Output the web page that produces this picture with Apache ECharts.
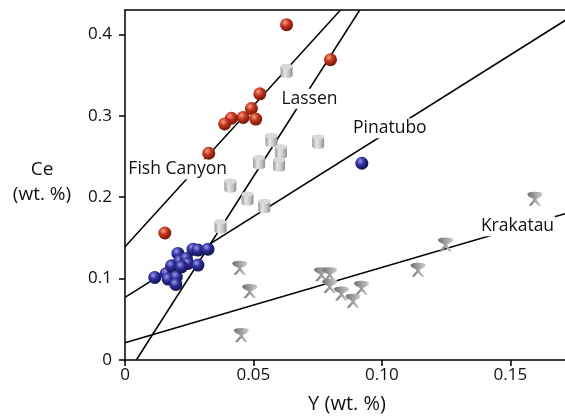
<!DOCTYPE html>
<html>
<head>
<meta charset="utf-8">
<script src="https://cdn.jsdelivr.net/npm/echarts@6/dist/echarts.min.js"></script>
<style>
html,body{margin:0;padding:0;background:#fff;}
#chart{width:565px;height:418px;}
</style>
</head>
<body>
<div id="chart"></div>
<script>
// ---- data (Y wt.%, Ce wt.%) ----
var fishCanyon = [[0.0629,0.412],[0.0800,0.369],[0.0525,0.327],[0.0492,0.309],[0.0460,0.298],
  [0.0509,0.296],[0.0414,0.297],[0.0388,0.290],[0.0326,0.254],[0.0155,0.156]];
var lassen = [[0.0629,0.355],[0.0570,0.270],[0.0752,0.268],[0.0607,0.256],[0.0600,0.240],
  [0.0522,0.243],[0.0410,0.214],[0.0477,0.198],[0.0542,0.189],[0.0372,0.164]];
var pinatubo = [[0.0116,0.1015],[0.0161,0.1064],[0.0168,0.0994],[0.0181,0.1157],[0.0200,0.1022],
  [0.0198,0.0929],[0.0206,0.1309],[0.0213,0.1215],[0.0239,0.1248],[0.0245,0.1186],
  [0.0265,0.1362],[0.0284,0.1350],[0.0323,0.1362],[0.0284,0.1166],[0.0220,0.1145],[0.0922,0.2417]];
var krakatau = [[0.1596,0.198],[0.1248,0.142],[0.1141,0.111],[0.0765,0.1055],[0.0797,0.1055],
  [0.0797,0.0908],[0.0843,0.0818],[0.0921,0.0887],[0.0888,0.0728],[0.0447,0.1133],
  [0.0486,0.0847],[0.0453,0.0307]];
// trend lines (end points)
var fishLine = [[0,0.139],[0.0839,0.43]];
var lassenLine = [[0.0044,0],[0.0914,0.43]];
var pinatuboLine = [[0,0.077],[0.1778,0.43]];
var krakatauLine = [[0,0.0213],[0.1713,0.1798]];
// group labels
var groupLabels = [
  {name:'Fish Canyon', value:[0.0205,0.2344]},
  {name:'Lassen', value:[0.0718,0.321]},
  {name:'Pinatubo', value:[0.1031,0.2847]},
  {name:'Krakatau', value:[0.1528,0.1644]}
];
var xTicks = [0,0.05,0.10,0.15];
var yTicks = [0,0.1,0.2,0.3,0.4];

var FONT = 'Open Sans';
var TXT = '#111';
var chart = echarts.init(document.getElementById('chart'));

function sphere(c1,c2,c3){
  return {type:'radial',x:0.38,y:0.33,r:0.7,colorStops:[{offset:0,color:c1},{offset:0.45,color:c2},{offset:1,color:c3}]};
}
function trend(d){
  return {type:'line',data:d,symbol:'none',silent:true,z:1,
    lineStyle:{color:'#000',width:1.5},animation:false};
}
var cylPath = 'path://M0,2.5C0,-0.8 12,-0.8 12,2.5L12,11.5C12,14.8 0,14.8 0,11.5Z';
var capPath = 'path://M0,2.5C0,-0.8 12,-0.8 12,2.5C12,5.8 0,5.8 0,2.5Z';
var gobletPath = 'path://M0,2.2C0,-0.7 14,-0.7 14,2.2C14,4.2 10.5,5.6 8.6,6.6L8.6,7.6L13,13L10.4,13L7,9.4L3.6,13L1,13L5.4,7.6L5.4,6.6C3.5,5.6 0,4.2 0,2.2Z';

var option = {
  animation:false,
  backgroundColor:'#fff',
  grid:{left:125,right:0,top:10,bottom:58,show:false},
  xAxis:[{type:'value',min:0,max:0.1713,interval:0.05,
    axisLine:{show:true,onZero:false,lineStyle:{color:'#000',width:1.5}},
    axisTick:{show:true,length:6,lineStyle:{color:'#000',width:1.5},customValues:xTicks},
    axisLabel:{color:TXT,fontFamily:FONT,fontSize:17,margin:7,customValues:xTicks,
      formatter:function(v){return v===0?'0':v.toFixed(2);}},
    splitLine:{show:false}},
   {type:'value',position:'top',min:0,max:0.1713,
    axisLine:{show:true,onZero:false,lineStyle:{color:'#000',width:1.5}},
    axisTick:{show:false},axisLabel:{show:false},splitLine:{show:false}}],
  yAxis:{type:'value',min:0,max:0.43,interval:0.1,
    axisLine:{show:true,onZero:false,lineStyle:{color:'#000',width:1.5}},
    axisTick:{show:true,length:6,lineStyle:{color:'#000',width:1.5},customValues:yTicks},
    axisLabel:{color:TXT,fontFamily:FONT,fontSize:17,margin:13,customValues:yTicks,
      formatter:function(v){return v===0?'0':v.toFixed(1);}},
    splitLine:{show:false}},
  graphic:[
    {type:'text',x:42,y:182,style:{text:'Ce\n(wt. %)',fontFamily:FONT,fontSize:19,lineHeight:25,
      fill:TXT,align:'center',verticalAlign:'middle'}},
    {type:'text',x:347,y:404,style:{text:'Y (wt. %)',fontFamily:FONT,fontSize:20,
      fill:TXT,align:'center',verticalAlign:'middle'}}
  ],
  series:[
    trend(fishLine), trend(lassenLine), trend(pinatuboLine), trend(krakatauLine),
    {type:'scatter',data:groupLabels,symbolSize:1,itemStyle:{color:'rgba(0,0,0,0)',opacity:1},z:3,silent:true,
      label:{show:true,position:'inside',formatter:'{b}',color:TXT,fontFamily:FONT,fontSize:17.5,
        backgroundColor:'#fff',padding:[1,1]}},
    {type:'scatter',name:'Krakatau',data:krakatau,symbol:gobletPath,symbolSize:[15,14],z:4,
      itemStyle:{opacity:1,color:{type:'linear',x:0,y:0,x2:1,y2:0,colorStops:[{offset:0,color:'#707070'},{offset:0.5,color:'#a0a0a0'},{offset:1,color:'#cccccc'}]}}},
    {type:'scatter',name:'Lassen',data:lassen,symbol:cylPath,symbolSize:[12,14],z:4,
      itemStyle:{opacity:1,color:{type:'linear',x:0,y:0,x2:1,y2:0,colorStops:[{offset:0,color:'#9a9a9a'},{offset:0.35,color:'#e6e6e6'},{offset:0.7,color:'#c4c4c4'},{offset:1,color:'#8c8c8c'}]}}},
    {type:'scatter',name:'LassenTop',data:lassen,symbol:capPath,symbolSize:[12,5],symbolOffset:[0,-4.6],z:5,silent:true,
      itemStyle:{opacity:1,color:'#d8d8d8'}},
    {type:'scatter',name:'Fish Canyon',data:fishCanyon,symbol:'circle',symbolSize:13,z:6,
      itemStyle:{opacity:1,color:sphere('#f4a080','#c2321c','#6a1408')}},
    {type:'scatter',name:'Pinatubo',data:pinatubo,symbol:'circle',symbolSize:13,z:6,
      itemStyle:{opacity:1,color:sphere('#9a9ae8','#2e2e9c','#101048')}}
  ]
};
chart.setOption(option);
</script>
</body>
</html>
